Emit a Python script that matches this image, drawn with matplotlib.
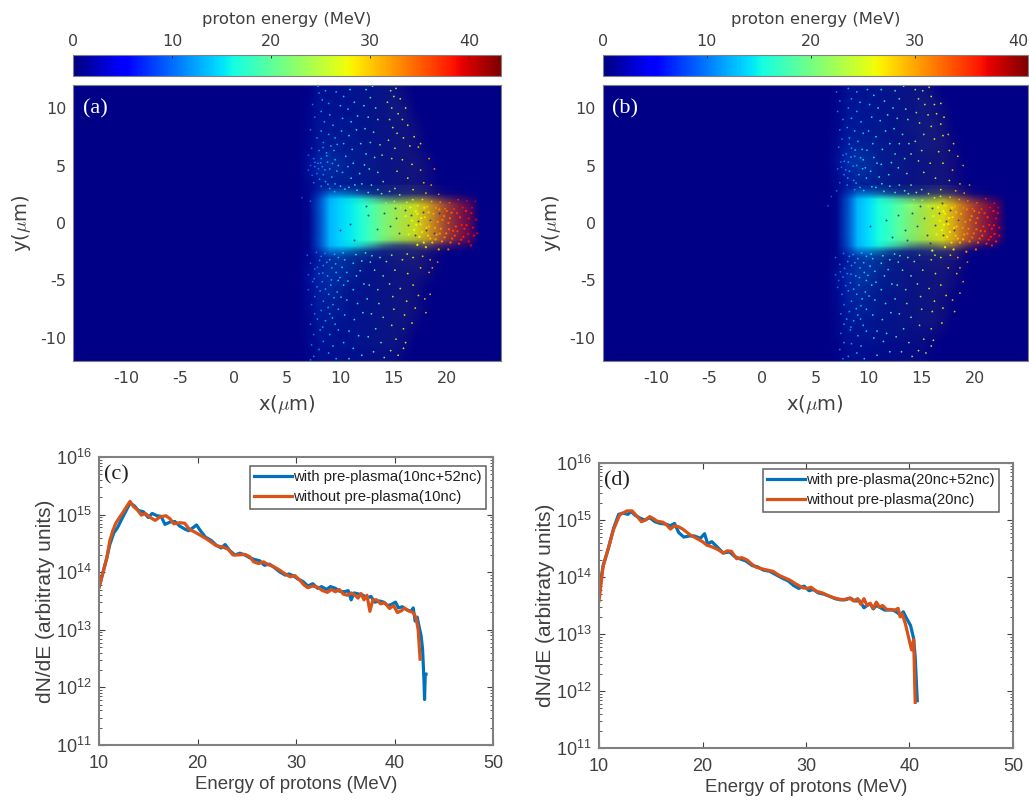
import numpy as np
import matplotlib
matplotlib.use("Agg")
import matplotlib.pyplot as plt
from matplotlib.cm import ScalarMappable
from matplotlib.colors import Normalize
from matplotlib.ticker import LogLocator, NullFormatter

W, H = 1029, 800
INK = "#404040"
SPINE = "#808080"
BLUE = "#0072BD"
ORANGE = "#D95319"

core_x = [7, 8, 9, 10, 11, 12, 13, 14, 15, 16, 17, 18, 19, 20, 21, 22, 23]
core_y = [3, 2.5, 2, 1.5, 1, .5, 0, -.5, -1, -1.5, -2, -2.5, -3]
a_core_energy = [10, 11.5, 13, 14.5, 15.5, 17, 19, 21.5, 23.5, 25.5, 27.5, 29.5, 32, 34.5, 36.5, 38, 39]
b_core_energy = [10, 11, 12.5, 14, 15.5, 17, 19, 21, 23, 25, 26.5, 28.5, 31, 33, 35, 36.5, 37]
a_core_cover = [
 [0,.03,.06,.06,.05,.05,.05,.05,.05,.05,.05,.05,.03,.03,.02,.01,0],
 [0,.2,.5,.45,.35,.22,.12,.08,.08,.08,.08,.08,.06,.06,.05,.03,0],
 [.01,.45,.98,.98,.95,.88,.76,.6,.5,.48,.5,.5,.42,.34,.26,.18,0],
 [.02,.52,1,1,1,1,1,.95,.92,.88,.85,.8,.72,.6,.48,.34,.01],
 [.02,.52,1,1,1,1,1,.97,.93,.88,.85,.8,.72,.6,.5,.38,.01],
 [.02,.5,1,1,1,1,1,.97,.93,.88,.85,.8,.72,.6,.5,.38,.01],
 [.02,.5,1,1,1,1,1,.97,.93,.88,.85,.8,.72,.6,.5,.38,.01],
 [.02,.5,1,1,1,1,1,.97,.93,.88,.85,.8,.72,.6,.5,.38,.01],
 [.02,.5,1,1,1,1,1,.97,.93,.88,.85,.8,.72,.6,.5,.38,.01],
 [.02,.52,1,1,1,1,1,.92,.84,.78,.72,.72,.66,.52,.42,.3,.01],
 [.01,.45,.98,.98,.92,.76,.6,.4,.28,.24,.26,.32,.26,.22,.18,.12,0],
 [0,.2,.5,.42,.3,.18,.1,.05,.05,.05,.05,.05,.05,.02,.02,.01,0],
 [0,.03,.06,.06,.05,.05,.04,.02,.02,.02,.02,0,0,0,0,0,0],
]
b_core_cover = [
 [0,.04,.06,.06,.06,.05,.05,.05,.05,.07,.07,.05,.05,.02,.02,.01,0],
 [.01,.2,.48,.42,.32,.22,.16,.12,.12,.16,.16,.16,.12,.08,.05,.03,0],
 [.01,.45,.98,.98,.96,.9,.82,.72,.62,.6,.62,.58,.5,.38,.28,.18,.01],
 [.02,.5,1,1,1,1,1,1,.92,.9,.88,.85,.76,.64,.52,.36,.01],
 [.02,.52,1,1,1,1,1,.96,.9,.88,.88,.84,.76,.64,.52,.36,.01],
 [.02,.52,1,1,1,1,1,.94,.9,.88,.88,.84,.76,.64,.52,.36,.01],
 [.02,.52,1,1,1,1,1,.94,.9,.88,.88,.84,.76,.64,.52,.36,.01],
 [.02,.52,1,1,1,1,1,.94,.9,.88,.88,.84,.76,.64,.52,.36,.01],
 [.02,.52,1,1,1,1,1,.94,.9,.88,.88,.84,.76,.64,.52,.36,.01],
 [.02,.5,1,1,1,1,.96,.9,.86,.84,.86,.82,.72,.58,.46,.32,.01],
 [.01,.45,.98,.98,.94,.84,.72,.56,.46,.44,.52,.52,.38,.26,.16,.1,0],
 [.01,.2,.48,.42,.28,.18,.12,.08,.08,.1,.1,.1,.06,.03,.02,.01,0],
 [0,.04,.08,.06,.05,.04,.04,.02,.02,.02,.02,.04,.02,0,0,0,0],
]

# faint tint of the unresolved dots around the core
halo_x = [7, 8, 9, 10, 11, 12, 13, 14, 15, 16, 17, 18, 19]
halo_y = [11.5, 10.5, 9.5, 8.5, 7.5, 6.5, 5.5, 4.5, 3.5, 2.5, 1.5, .5, -.5, -1.5, -2.5, -3.5, -4.5, -5.5, -6.5, -7.5, -8.5, -9.5, -10.5, -11.5]
a_halo_cover = [
 [.02,.1,.08,.08,.08,.08,.08,.08,.08,.04,0,0,0],
 [.04,.12,.1,.08,.08,.08,.08,.08,.1,.06,.01,0,0],
 [.04,.12,.1,.08,.08,.08,.08,.08,.1,.08,.02,0,0],
 [.06,.14,.12,.1,.1,.08,.08,.08,.08,.08,.05,0,0],
 [.06,.14,.14,.12,.1,.08,.08,.08,.08,.08,.06,.01,0],
 [.06,.16,.16,.12,.1,.1,.08,.08,.08,.08,.06,.02,0],
 [.12,.24,.24,.18,.12,.1,.1,.08,.08,.08,.08,.05,.01],
 [.12,.24,.22,.16,.12,.1,.1,.08,.08,.08,.08,.06,.02],
 [.08,.18,.18,.14,.12,.1,.08,.08,.08,.08,.08,.06,.02],
 [.06,.16,.2,.18,.14,.12,.11,.1,.1,.1,.1,.08,.04],
 [.04,.04,0,0,0,0,0,0,0,0,0,0,0],
 [.04,.04,0,0,0,0,0,0,0,0,0,0,0],
 [.04,.04,0,0,0,0,0,0,0,0,0,0,0],
 [.04,.04,0,0,0,0,0,0,0,0,0,0,0],
 [.06,.18,.24,.22,.18,.13,.11,.1,.1,.1,.1,.08,.04],
 [.08,.2,.24,.22,.16,.12,.08,.08,.1,.1,.1,.08,.04],
 [.12,.24,.24,.2,.14,.08,.08,.08,.08,.08,.08,.06,.02],
 [.1,.22,.22,.16,.1,.08,.08,.08,.08,.08,.06,.02,0],
 [.08,.2,.18,.12,.08,.08,.08,.08,.08,.08,.06,.02,0],
 [.08,.18,.16,.12,.08,.08,.08,.08,.08,.08,.06,.02,0],
 [.06,.16,.14,.1,.08,.08,.08,.08,.08,.08,.04,0,0],
 [.06,.14,.12,.08,.08,.08,.08,.08,.08,.06,.02,0,0],
 [.05,.12,.1,.08,.08,.08,.08,.08,.08,.05,0,0,0],
 [.04,.1,.08,.08,.06,.06,.06,.06,.06,.02,0,0,0],
]
b_halo_cover = [
 [.02,.11,.1,.08,.08,.08,.08,.08,.08,.05,0,0,0],
 [.04,.13,.11,.1,.08,.08,.08,.08,.1,.08,.03,0,0],
 [.05,.14,.13,.1,.08,.08,.08,.08,.1,.08,.05,0,0],
 [.06,.16,.13,.1,.1,.08,.08,.1,.1,.1,.06,.01,0],
 [.08,.18,.16,.12,.1,.08,.08,.08,.1,.1,.08,.02,0],
 [.1,.22,.2,.14,.11,.1,.08,.08,.1,.1,.08,.04,0],
 [.12,.28,.28,.2,.12,.1,.1,.08,.08,.08,.08,.06,.01],
 [.1,.24,.24,.18,.12,.1,.1,.08,.08,.08,.08,.06,.02],
 [.08,.18,.18,.14,.12,.1,.08,.08,.08,.08,.08,.06,.02],
 [.06,.18,.21,.19,.14,.13,.11,.11,.11,.11,.11,.1,.04],
 [.04,.04,0,0,0,0,0,0,0,0,0,0,0],
 [.04,.04,0,0,0,0,0,0,0,0,0,0,0],
 [.04,.04,0,0,0,0,0,0,0,0,0,0,0],
 [.04,.04,0,0,0,0,0,0,0,0,0,0,0],
 [.06,.18,.24,.24,.2,.14,.11,.1,.11,.11,.11,.1,.04],
 [.08,.2,.26,.24,.18,.13,.1,.1,.1,.1,.1,.08,.04],
 [.12,.26,.28,.22,.14,.1,.1,.08,.08,.08,.08,.06,.02],
 [.1,.22,.24,.18,.11,.1,.1,.08,.08,.08,.08,.05,0],
 [.08,.21,.2,.14,.1,.08,.08,.08,.08,.08,.06,.02,0],
 [.08,.18,.18,.13,.1,.08,.08,.08,.08,.08,.06,.02,0],
 [.06,.16,.14,.11,.08,.08,.08,.08,.08,.08,.05,0,0],
 [.05,.13,.11,.1,.08,.08,.08,.06,.06,.05,.02,0,0],
 [.03,.1,.08,.08,.06,.05,.05,.05,.05,.02,0,0,0],
 [.02,.08,.08,.05,.05,.05,.05,.04,.04,.01,0,0,0],
]

a_dots = [
 (7.4,10.3,11),(7.6,9.2,11),(7.2,8.1,11),(7.8,7.4,12),(7.3,6.5,11),(7.0,5.9,10),(7.5,5.6,11),(7.2,5.0,10),(7.0,4.6,10),(7.6,4.9,11),(7.9,5.2,11),(7.8,4.3,11),(7.5,3.5,11),(6.4,2.2,9),(7.2,1.9,10),
 (7.9,11.9,13),(8.0,11.3,12),(8.6,11.5,13),(8.3,10.7,13),(8.9,10.4,13),(8.2,9.7,13),(9.0,9.4,14),(8.5,8.8,13),(9.3,8.5,14),(8.2,8.0,13),(8.9,7.7,13),(9.5,7.4,14),(8.4,7.0,12),(9.1,6.7,13),(8.0,6.3,12),(8.7,6.1,13),(9.4,6.3,14),(8.2,5.6,12),(8.8,5.3,13),(9.5,5.5,14),(8.3,4.9,12),(9.0,4.7,13),(9.8,5.0,14),(8.4,4.2,12),(9.2,4.0,13),(8.6,3.6,13),(9.5,3.4,14),(8.2,3.2,12),(9.0,3.0,13),(10.0,3.2,15),
 (9.6,11.4,14),(10.3,11.0,15),(10.9,11.6,16),(10.0,10.2,15),(10.7,9.9,15),(11.3,10.5,17),(10.2,9.1,15),(11.0,8.8,16),(11.6,9.3,17),(10.1,8.0,15),(10.8,7.6,16),(11.5,8.1,17),(10.3,6.9,15),(11.1,6.4,16),(11.9,6.9,17),(10.5,5.8,15),(11.2,5.2,16),(10.2,4.4,15),(11.0,3.9,16),(11.8,4.3,17),(10.8,3.1,16),(12.0,3.4,18),
 (12.4,11.6,19),(13.0,11.9,20),(12.8,10.9,19),(12.2,10.2,18),(13.3,10.0,20),(12.6,9.2,19),(13.5,9.0,21),(12.3,8.2,18),(13.1,7.9,20),(12.8,7.0,19),(13.7,6.8,21),(12.4,6.0,18),(13.2,5.7,20),(13.9,5.9,21),(12.7,4.7,19),(13.5,4.4,20),(12.9,3.3,19),(14.0,3.6,21),(13.5,2.9,20),
 (14.7,11.5,25),(15.2,11.7,26),(15.0,11.0,25),(14.4,10.5,24),(15.6,10.8,26),(14.8,10.0,25),(15.4,9.5,26),(16.1,10.0,27),(14.6,9.0,24),(15.8,9.0,27),(14.9,8.3,25),(16.3,8.5,28),(15.3,7.8,26),(14.5,7.2,24),(15.9,7.4,27),(16.9,7.5,28),(15.1,6.5,25),(16.5,6.7,28),(17.3,6.6,29),(17.5,6.9,29),(14.8,5.6,24),(15.8,5.5,26),(16.7,5.1,28),(18.3,5.6,31),(18.8,4.7,32),(17.5,4.6,30),(15.3,4.5,25),(16.3,3.9,27),(17.8,3.5,30),(18.5,3.3,31),(15.1,3.0,25),(16.8,2.9,28),(19.2,2.5,33),(18.0,2.6,30),
 (6.9,-2.8,10),(7.2,-3.5,10),(7.6,-4.0,11),(7.0,-4.5,10),(7.4,-5.1,11),(7.0,-5.8,10),(7.6,-6.4,11),(7.3,-7.1,11),(7.6,-7.9,11),(7.2,-8.8,11),(7.5,-9.7,11),(7.3,-10.6,11),(7.5,-11.6,12),(7.2,-11.9,11),
 (8.2,-2.9,12),(9.0,-3.2,13),(9.8,-3.0,14),(8.4,-3.7,12),(9.2,-3.9,13),(8.0,-4.4,12),(8.8,-4.6,13),(9.6,-4.3,14),(8.3,-5.1,12),(9.1,-5.4,13),(9.8,-5.0,14),(8.1,-5.9,12),(8.9,-6.2,13),(9.7,-6.0,14),(8.4,-6.8,12),(9.3,-7.1,13),(8.2,-7.6,12),(9.0,-7.9,13),(9.8,-7.5,14),(8.6,-8.5,13),(9.5,-8.8,14),(8.1,-9.3,12),(9.0,-9.7,13),(9.8,-9.3,14),(8.4,-10.3,12),(9.3,-10.7,14),(8.9,-11.3,13),(8.0,-11.0,12),(9.6,-11.8,14),
 (10.4,-3.2,15),(11.2,-3.5,16),(12.0,-3.3,18),(10.6,-4.3,15),(11.5,-4.6,17),(10.3,-5.4,15),(11.2,-5.8,16),(12.2,-5.3,18),(10.6,-6.7,15),(11.6,-7.0,17),(10.4,-8.0,15),(11.3,-8.4,16),(12.1,-7.8,18),(10.8,-9.4,16),(11.7,-9.8,17),(10.3,-10.4,15),(11.2,-10.9,16),(10.8,-11.8,16),(12.0,-11.5,18),
 (12.8,-3.4,19),(13.7,-3.0,20),(13.2,-4.1,20),(14.0,-4.6,21),(12.7,-5.4,19),(13.5,-5.8,20),(12.5,-6.6,18),(13.6,-7.0,21),(12.9,-7.9,19),(14.0,-8.2,21),(13.3,-9.2,20),(12.6,-9.9,19),(13.8,-10.4,21),(13.1,-11.2,20),(14.1,-11.7,22),
 (14.8,-2.8,24),(15.8,-3.2,26),(16.8,-3.0,28),(17.7,-2.9,30),(18.4,-3.2,31),(15.1,-4.1,25),(16.3,-4.4,27),(17.5,-3.9,29),(18.6,-3.9,31),(19.1,-3.4,33),(18.3,-4.3,31),(14.6,-5.3,24),(15.6,-5.7,26),(16.8,-5.4,28),(14.9,-6.4,25),(16.2,-6.8,27),(17.3,-6.3,29),(17.9,-6.6,30),(18.4,-6.2,31),(15.0,-7.5,25),(16.0,-8.0,27),(17.0,-7.4,29),(18.0,-7.8,30),(14.8,-8.9,25),(15.9,-9.2,26),(16.7,-8.7,28),(15.2,-10.1,26),(16.1,-10.4,27),(14.7,-11.1,24),(15.4,-11.5,26),(15.9,-10.9,27),
 # denser clumps beside the core
 (7.35,4.15,10),(7.95,4.72,11),(8.15,5.23,12),(8.55,4.61,12),(8.72,5.84,13),(9.25,5.17,13),(9.67,4.52,14),(8.05,3.81,12),(8.83,3.37,13),(9.45,2.72,14),(10.42,2.95,15),(11.35,3.31,16),(7.62,5.27,11),(8.38,6.56,12),(9.7,6.83,14),(10.7,4.9,15),(12.25,5.05,18),(11.55,2.85,17),(12.6,2.65,19),(13.85,2.55,21),(14.6,2.75,23),(15.55,2.45,25),
 (7.75,-2.55,11),(8.55,-2.65,12),(9.45,-2.72,14),(10.25,-2.6,15),(11.45,-2.75,17),(12.35,-2.6,18),(8.05,-3.25,12),(8.72,-3.42,13),(9.55,-3.55,14),(10.15,-3.85,15),(7.85,-3.85,11),(7.55,-4.85,11),(8.35,-4.35,12),(9.15,-4.95,13),(9.95,-4.75,14),(10.7,-5.05,15),(7.8,-5.55,12),(8.6,-5.75,13),(9.4,-6.5,14),(10.05,-6.45,15),(8.85,-7.35,13),(7.85,-8.35,12),(9.25,-8.25,14),(8.35,-9.05,13),(11.85,-4.15,17),(12.95,-2.85,19),(14.3,-3.35,23),(16.25,-2.7,27),
 # hot tail
 (14.25,1.72,22),(15.05,1.88,24),(15.62,1.33,25),(16.21,1.79,26),(16.77,2.02,27),(17.23,1.51,28),(17.68,2.04,29),(18.12,1.42,30),(18.53,1.87,31),(18.94,1.31,32),(19.34,1.81,33),(19.78,1.24,34),(20.21,1.76,35),(20.63,1.21,36),(21.02,2.03,37),(21.44,1.34,38),(21.83,1.92,39),(22.31,1.33,39),(22.62,1.88,40),
]
a_tail = [
 (16.1,.6,26),(16.7,.2,27),(17.2,.8,28),(17.5,-.1,29),(17.9,.5,30),(18.3,-.3,31),(18.7,.8,32),(19.1,.1,33),(19.4,-.5,33),(19.7,.6,34),(20.1,.0,35),(20.4,.9,35),(20.8,-.3,36),(21.2,.5,37),(21.6,-.5,38),(22.0,.4,39),(22.4,-.4,39),(22.7,.3,40),
 (16.4,-1.0,26),(16.9,-.6,27),(17.4,-1.2,28),(17.8,-1.7,29),(18.2,-1.1,30),(18.6,-1.7,31),(19.0,-1.0,32),(19.5,-1.6,33),(19.9,-.9,34),(20.3,-1.7,35),(20.7,-1.1,36),(21.1,-1.8,37),(21.5,-1.2,38),(22.0,-1.6,39),(22.5,-1.1,39),(22.8,-.9,40),(17.2,-1.9,28),(18.0,-2.1,30),(19.2,-2.3,32),(20.1,-2.3,35),
 (16.55,1.35,27),(17.05,1.02,27),(17.55,.43,28),(17.85,1.32,29),(18.25,.93,30),(18.45,.17,31),(18.85,-.42,32),(19.25,1.18,33),(19.55,.27,34),(19.95,1.05,35),(20.25,.42,35),(20.55,-.68,36),(20.92,.86,37),(21.35,-.17,38),(21.75,1.05,38),(21.95,-.95,39),(22.25,.86,39),(17.1,-.15,28),(17.65,-.78,29),(18.05,-.42,30),(18.4,-1.35,31),(18.9,-1.42,32),(19.3,-.92,33),(19.75,-1.25,34),(20.15,-.55,35),(20.45,-1.35,36),(20.95,-.72,37),(21.3,-1.45,38),(21.8,-.2,38),(22.2,-1.95,39),
]
b_dots = [
 (7.0,11.4,11),(7.3,10.6,11),(7.1,9.7,11),(7.6,9.0,12),(7.3,8.1,11),(7.5,7.3,11),(7.2,6.6,11),(7.6,5.9,11),(7.4,5.3,10),(7.1,4.7,10),(7.7,4.2,11),(7.3,3.5,10),(7.0,2.8,10),(6.2,1.5,9),(6.5,2.3,9),
 (8.1,11.7,12),(8.9,11.4,13),(8.4,10.8,12),(9.2,10.5,14),(8.1,10.0,12),(8.9,9.7,13),(8.4,9.1,13),(9.3,8.8,14),(8.0,8.3,12),(8.7,8.0,13),(9.5,7.8,14),(8.2,7.4,12),(9.0,7.1,13),(8.4,6.5,12),(9.4,6.4,14),(7.9,6.0,11),(8.7,5.8,12),(9.5,5.5,14),(8.1,5.3,12),(8.9,5.0,12),(9.7,4.8,14),(8.2,4.5,12),(9.1,4.2,13),(8.6,3.7,12),(9.8,3.9,14),(8.0,3.3,11),(9.2,3.1,13),(8.7,2.9,12),
 (9.9,11.6,14),(10.5,11.1,15),(11.2,11.6,16),(10.1,10.3,14),(10.9,10.0,16),(11.5,10.6,16),(10.3,9.2,15),(11.1,8.9,16),(11.8,9.4,17),(10.0,8.0,14),(10.7,7.5,15),(11.6,8.0,16),(10.4,6.9,15),(11.3,6.4,16),(12.0,6.9,17),(10.5,5.7,15),(11.2,5.1,16),(10.2,4.5,15),(11.0,4.0,16),(11.9,4.2,17),(10.7,3.1,15),(12.0,3.2,17),
 (12.5,11.5,18),(13.3,11.9,19),(12.9,10.8,18),(12.3,10.0,17),(13.5,9.9,20),(12.7,9.1,18),(13.7,9.0,20),(12.4,8.2,17),(13.2,7.7,19),(12.9,6.9,18),(13.8,6.9,20),(12.5,6.0,17),(13.4,5.6,19),(14.0,6.0,21),(12.8,4.8,18),(13.6,4.3,20),(12.9,3.3,18),(14.0,3.3,21),(13.4,2.8,19),
 (14.4,11.6,22),(15.1,11.5,23),(15.7,11.8,25),(15.9,11.0,25),(14.7,10.8,22),(15.3,10.3,23),(16.2,10.3,25),(16.8,10.4,26),(14.5,9.6,22),(15.6,9.4,24),(16.4,9.5,25),(17.1,9.2,27),(14.8,8.7,23),(15.9,8.4,24),(16.8,8.6,26),(15.2,7.7,23),(14.4,7.1,22),(16.2,7.3,25),(17.0,7.6,26),(17.5,7.7,28),(18.0,6.9,28),(17.6,6.3,27),(15.0,6.3,23),(16.6,6.2,26),(18.4,5.8,29),(14.7,5.4,22),(15.8,5.2,24),(17.0,5.2,26),(18.9,5.0,30),(17.9,4.6,28),(15.2,4.4,23),(16.3,3.9,25),(17.6,3.7,27),(18.6,3.4,29),(19.5,3.3,31),(15.0,2.9,23),(16.8,2.9,26),(18.2,2.8,28),(19.0,2.6,30),
 (6.9,-3.0,10),(7.3,-3.6,10),(6.9,-4.5,10),(7.2,-5.0,10),(7.6,-4.7,11),(7.1,-5.6,10),(7.5,-6.2,11),(7.7,-7.1,11),(7.4,-7.9,11),(7.7,-8.8,12),(7.4,-9.6,11),(7.7,-10.4,12),(7.3,-11.0,11),(7.6,-11.8,11),
 (8.2,-2.9,12),(9.0,-3.1,13),(9.8,-2.9,14),(8.4,-3.7,12),(9.2,-3.9,13),(8.0,-4.4,11),(8.8,-4.6,13),(9.6,-4.3,14),(8.3,-5.2,12),(9.1,-5.4,13),(9.8,-5.0,14),(8.1,-5.9,12),(8.9,-6.2,13),(9.7,-6.0,14),(8.4,-6.8,12),(9.3,-7.2,13),(8.2,-7.7,12),(9.0,-8.0,13),(9.8,-7.5,14),(8.6,-8.5,13),(9.5,-8.9,14),(8.3,-9.3,12),(9.0,-9.8,13),(9.8,-9.4,14),(8.4,-10.5,12),(9.3,-10.7,14),(8.9,-11.3,13),(8.1,-11.6,12),(9.6,-11.8,14),
 (10.4,-3.1,15),(11.2,-3.5,16),(12.0,-3.2,17),(10.6,-4.2,15),(11.5,-4.6,16),(10.3,-5.4,15),(11.2,-5.8,16),(12.2,-5.3,17),(10.6,-6.7,15),(11.6,-7.0,16),(10.4,-8.0,15),(11.3,-8.4,16),(12.1,-7.8,17),(10.8,-9.4,15),(11.7,-9.6,16),(10.5,-10.0,15),(11.4,-10.3,16),(10.8,-11.5,15),(12.0,-11.2,17),
 (12.8,-3.4,18),(13.7,-3.0,20),(13.2,-4.1,19),(14.0,-4.6,21),(12.7,-5.4,18),(13.5,-5.8,19),(12.5,-6.6,17),(13.6,-7.0,20),(12.9,-7.9,18),(14.0,-8.2,21),(13.3,-9.2,19),(12.6,-9.9,18),(13.8,-10.4,20),(13.1,-11.2,19),(14.1,-11.6,21),
 (14.8,-2.8,22),(15.9,-3.2,24),(16.8,-3.0,26),(17.7,-2.8,27),(18.4,-3.0,29),(15.1,-4.1,23),(16.3,-4.4,25),(17.5,-3.9,27),(18.6,-3.9,29),(19.3,-3.4,31),(18.3,-4.4,28),(14.6,-5.3,22),(15.7,-5.7,24),(16.8,-5.4,26),(18.9,-5.1,30),(14.9,-6.4,23),(16.2,-6.8,25),(17.3,-6.3,27),(17.9,-6.7,28),(18.6,-6.1,29),(15.0,-7.5,23),(16.0,-7.7,24),(17.0,-7.4,26),(18.1,-7.7,28),(14.8,-8.9,22),(15.9,-9.2,24),(16.9,-8.7,26),(15.2,-10.1,23),(16.1,-10.2,25),(14.7,-11.1,22),(15.4,-11.3,23),(15.9,-10.7,24),
 # denser clumps beside the core
 (7.45,4.85,10),(7.85,4.62,11),(8.35,5.73,12),(8.55,4.95,12),(8.75,6.34,13),(9.25,5.67,13),(9.45,4.72,14),(8.05,3.91,12),(8.83,3.47,13),(9.55,2.82,14),(10.32,3.15,15),(11.25,3.41,16),(7.72,5.37,11),(8.18,6.86,12),(9.85,6.33,14),(10.8,5.2,15),(12.15,5.25,17),(11.45,2.75,16),(12.5,2.65,18),(13.75,2.55,20),(14.5,2.65,22),(15.65,2.55,24),
 (7.65,-2.65,11),(8.55,-2.75,12),(9.35,-2.62,13),(10.25,-2.7,15),(11.35,-2.85,16),(12.45,-2.7,17),(8.05,-3.35,12),(8.72,-3.45,13),(9.55,-3.45,14),(10.15,-3.75,15),(7.75,-3.95,11),(7.35,-4.25,10),(8.35,-4.45,12),(9.15,-4.75,13),(9.95,-4.55,14),(10.7,-5.15,15),(7.85,-5.45,11),(8.6,-5.75,13),(9.4,-6.6,14),(10.05,-6.35,14),(8.85,-7.45,13),(7.95,-8.35,12),(9.25,-8.35,13),(8.35,-9.05,12),(11.85,-4.05,16),(12.95,-2.85,18),(14.3,-3.35,21),(16.25,-2.8,25),
 # hot tail
 (14.25,2.02,21),(15.05,1.98,23),(15.62,1.43,24),(16.21,2.19,25),(16.77,2.32,26),(17.23,1.51,27),(17.68,2.24,28),(18.12,1.42,29),(18.53,2.05,30),(18.94,1.31,31),(19.34,1.91,32),(19.78,1.24,33),(20.21,1.76,33),(20.63,1.21,34),(21.02,2.12,35),(21.44,1.34,36),(21.83,1.72,36),(22.21,1.33,37),
]
b_tail = [
 (16.1,.6,25),(16.7,.2,26),(17.2,.8,27),(17.5,-.1,27),(17.9,.5,28),(18.3,-.3,29),(18.7,.8,30),(19.1,.1,31),(19.4,-.5,32),(19.7,.6,32),(20.1,.0,33),(20.4,.9,34),(20.8,-.3,35),(21.2,.5,35),(21.6,-.5,36),(22.0,.4,37),(22.3,-.4,37),
 (16.4,-1.0,25),(16.9,-.6,26),(17.4,-1.2,27),(17.8,-1.7,28),(18.2,-1.1,29),(18.6,-1.7,30),(19.0,-1.0,31),(19.5,-1.6,32),(19.9,-.9,33),(20.3,-1.7,33),(20.7,-1.1,34),(21.1,-1.8,35),(21.5,-1.2,36),(22.0,-1.6,36),(22.3,-1.1,37),(17.2,-2.1,27),(18.0,-2.3,28),(19.2,-2.5,31),(20.1,-2.3,33),(16.0,-2.4,25),
 (16.55,1.35,26),(17.05,1.02,26),(17.55,.43,27),(17.85,1.32,28),(18.25,.93,29),(18.45,.17,30),(18.85,-.42,31),(19.25,1.18,32),(19.55,.27,32),(19.95,1.05,33),(20.25,.42,33),(20.55,-.68,34),(20.92,.86,35),(21.35,-.17,36),(21.75,1.05,36),(21.85,-.95,36),(22.15,.86,37),(17.1,-.15,26),(17.65,-.78,27),(18.05,-.42,28),(18.4,-1.35,29),(18.9,-1.42,30),(19.3,-.92,32),(19.75,-1.25,33),(20.15,-.55,33),(20.45,-1.35,34),(20.95,-.72,35),(21.3,-1.45,36),(21.8,-.2,36),(21.6,-1.95,36),
]
a_specks = [(10.9,-.1),(10.0,-.6),(12.6,.7),(13.4,-.5),(14.1,.9),(14.6,-.3),(15.2,.4),(15.5,-.9),(16.0,1.1),(16.3,-.2),(16.6,.7),(17.0,-1.0),(17.3,.2),(17.7,1.0),(18.0,-.6),(18.4,.3),(18.8,-.9),(19.2,.9),(12.4,1.5),(15.1,1.3),(11.3,-1.5)]
b_specks = [(10.1,-.3),(11.6,.3),(12.8,.7),(13.4,-.6),(14.1,.9),(14.6,-.3),(15.2,.4),(15.5,-1.0),(16.0,1.3),(16.3,-.2),(16.6,.9),(17.0,-1.0),(17.3,.2),(17.7,1.1),(18.0,-.6),(18.4,.3),(14.8,1.5),(13.6,-1.5),(12.2,-1.2),(15.8,-1.7),(16.9,1.7)]

# ---- spectra: proton energy (MeV) and log10(dN/dE)
c_blue_E = [10,10.4,10.8,11.1,11.5,11.9,12.3,12.7,13.15,13.6,14,14.5,15,15.4,15.9,16.3,16.7,17.2,17.7,18.2,18.7,19.1,19.6,19.9,20.3,20.8,21.4,21.9,22.4,22.8,23.3,23.8,24.3,24.8,25.3,25.8,26.3,26.8,27.3,27.8,28.4,28.9,29.3,29.8,30.2,30.7,31.2,31.7,32.2,32.6,33.1,33.5,34,34.4,34.9,35.3,35.6,35.9,36.4,36.8,37.2,37.6,38,38.5,38.9,39.3,39.7,40.1,40.4,40.8,41.2,41.7,41.9,42.1,42.3,42.5,42.7,42.85,43,43.05,43.12,43.2]
c_blue_log = [13.74,14.0,14.25,14.48,14.68,14.78,14.92,15.05,15.2,15.15,15.07,15.05,14.95,15.02,14.98,14.97,14.83,14.87,14.88,14.8,14.75,14.72,14.78,14.82,14.72,14.61,14.55,14.47,14.42,14.48,14.37,14.3,14.33,14.3,14.25,14.22,14.2,14.12,14.14,14.08,14.0,13.95,13.97,13.93,13.88,13.84,13.76,13.8,13.72,13.75,13.7,13.75,13.72,13.67,13.66,13.68,13.52,13.64,13.62,13.6,13.55,13.58,13.48,13.5,13.48,13.42,13.44,13.48,13.38,13.4,13.35,13.32,13.38,13.15,13.22,13.05,12.9,12.66,12.1,11.79,12.23,12.23]
c_orange_E = [10,10.4,10.8,11.1,11.4,11.7,12,12.4,12.8,13.15,13.5,13.9,14.3,14.7,15.2,15.7,16.2,16.8,17.2,17.6,18.2,18.7,19.2,19.7,20.3,20.9,21.4,21.9,22.5,23.1,23.6,24.2,24.8,25.3,25.7,26.2,26.7,27.2,27.7,28.3,28.9,29.4,29.9,30.4,30.8,31.2,31.7,32.2,32.7,33.2,33.6,34,34.4,34.8,35.2,35.6,36,36.3,36.6,36.9,37.2,37.5,37.8,38.2,38.6,39,39.5,39.9,40.3,40.7,41,41.4,41.9,42.2,42.4,42.6]
c_orange_log = [13.74,13.98,14.26,14.55,14.72,14.85,14.93,15.03,15.14,15.23,15.14,15.08,14.99,15.02,14.95,14.9,14.96,14.98,14.93,14.84,14.86,14.85,14.74,14.7,14.64,14.58,14.52,14.46,14.44,14.4,14.3,14.3,14.31,14.27,14.18,14.15,14.18,14.13,14.1,14.04,13.97,13.92,13.94,13.86,13.78,13.73,13.76,13.74,13.68,13.65,13.7,13.66,13.7,13.62,13.6,13.64,13.6,13.55,13.63,13.52,13.6,13.32,13.52,13.52,13.45,13.47,13.37,13.42,13.3,13.33,13.38,13.33,13.3,13.2,13.0,12.49]
d_blue_E = [10,10.4,10.9,11.4,11.9,12.3,12.8,13.1,13.5,14,14.4,14.9,15.4,15.9,16.4,16.9,17.3,17.7,18.2,18.7,19.2,19.8,20.2,20.5,20.9,21.4,22,22.6,23.1,23.6,24.2,24.8,25.3,25.9,26.5,27.1,27.7,28.3,28.8,29.3,29.8,30.3,30.7,31.2,31.7,32.3,32.8,33.3,33.8,34.3,34.7,35.2,35.6,35.9,36.2,36.5,36.8,37.2,37.6,38,38.4,38.8,39.1,39.4,39.7,40.1,40.4,40.55,40.75]
d_blue_log = [13.75,14.2,14.5,14.85,15.1,15.12,15.1,15.15,15.08,15.03,15.0,15.04,14.97,14.94,14.93,14.9,14.94,14.78,14.7,14.72,14.72,14.68,14.76,14.58,14.62,14.53,14.42,14.44,14.36,14.32,14.28,14.2,14.18,14.12,14.1,14.04,13.98,13.93,13.85,13.8,13.84,13.76,13.78,13.72,13.7,13.66,13.62,13.6,13.6,13.63,13.58,13.58,13.46,13.5,13.53,13.44,13.5,13.46,13.42,13.42,13.42,13.38,13.33,13.39,13.28,13.15,12.92,12.6,11.83]
d_orange_E = [10,10.4,10.9,11.4,12,12.7,13.2,13.6,14.1,14.5,14.9,15.3,15.6,16.2,16.6,16.9,17.3,17.7,18.1,18.8,19.4,20,20.4,20.9,21.5,22,22.4,22.8,23.3,23.8,24.3,24.8,25.2,25.8,26.3,26.8,27.5,28.4,29,29.7,30.1,30.5,31,31.6,32.3,33,33.6,34.2,34.6,35,35.3,35.6,35.9,36.2,36.5,36.8,37.1,37.4,37.8,38.2,38.6,38.9,39.1,39.3,39.6,39.9,40.2,40.4,40.55]
d_orange_log = [13.58,14.19,14.5,14.83,15.09,15.16,15.16,15.08,14.97,15.0,15.06,15.02,14.98,14.96,14.9,14.84,14.9,14.88,14.84,14.74,14.68,14.62,14.56,14.53,14.48,14.42,14.46,14.45,14.32,14.34,14.3,14.22,14.17,14.14,14.12,14.1,14.02,13.95,13.88,13.81,13.8,13.82,13.75,13.72,13.66,13.62,13.6,13.63,13.58,13.62,13.52,13.62,13.5,13.54,13.45,13.56,13.47,13.5,13.43,13.43,13.42,13.45,13.3,13.35,13.18,12.95,12.72,12.9,11.8]

x_ticks = [-10, -5, 0, 5, 10, 15, 20]
y_ticks = [-10, -5, 0, 5, 10]
bar_ticks = [0, 10, 20, 30, 40]
e_ticks = [10, 20, 30, 40, 50]
legend_c = ["with pre-plasma(10nc+52nc)", "without pre-plasma(10nc)"]
legend_d = ["with pre-plasma(20nc+52nc)", "without pre-plasma(20nc)"]


def box(fig, l, t, r, b):
    return fig.add_axes([l / W, 1 - b / H, (r - l) / W, (b - t) / H])


def field(fig, bounds, bar_bounds, vmax, core_e, cover, halo, dots, tail, specks, tag):
    cmap = plt.get_cmap("jet")
    norm = Normalize(0, vmax)
    ax = box(fig, *bounds)
    ax.set_facecolor((0, 0, .53))
    # the tint fades to nothing one column beyond each side
    padded = np.pad(np.array(halo), ((0, 0), (1, 1)))
    shades = np.array(core_e[:len(halo_x)])
    shades = np.concatenate([shades[:1], shades, shades[-1:]])
    tint = np.tile(cmap(norm(shades))[None, :, :], (len(halo_y), 1, 1))
    tint[:, :, 3] = padded
    ax.imshow(tint, extent=(halo_x[0] - 1.5, halo_x[-1] + 1.5, halo_y[-1] - .5, halo_y[0] + .5),
              origin="upper", aspect="auto", interpolation="bilinear", zorder=1)
    rgba = np.tile(cmap(norm(core_e))[None, :, :], (len(core_y), 1, 1))
    rgba[:, :, 3] = np.array(cover)
    ax.imshow(rgba, extent=(core_x[0] - .5, core_x[-1] + .5, core_y[-1] - .25, core_y[0] + .25),
              origin="upper", aspect="auto", interpolation="bilinear", zorder=1.5)
    d = np.array(dots)
    ax.scatter(d[:, 0], d[:, 1], c=d[:, 2], cmap=cmap, norm=norm, s=1.6, linewidths=0, alpha=.9, zorder=2)
    t = np.array(tail)
    ax.scatter(t[:, 0], t[:, 1], c=t[:, 2], cmap=cmap, norm=norm, s=2.6, linewidths=0, zorder=3)
    sp = np.array(specks)
    ax.scatter(sp[:, 0], sp[:, 1], color=(.1, .15, .5), s=2, linewidths=0, alpha=.8, zorder=4)
    ax.set_xlim(-15, 25)
    ax.set_ylim(-12, 12)
    ax.set_xticks(x_ticks)
    ax.set_yticks(y_ticks)
    ax.tick_params(direction="in", length=0, labelsize=11.5, labelcolor=INK, pad=5)
    ax.tick_params(axis="x", pad=7)
    for s in ax.spines.values():
        s.set_color(SPINE)
        s.set_linewidth(.8)
    ax.set_xlabel("x($\\mathit{\\mu}$m)", fontsize=14, color=INK, math_fontfamily="cm")
    ax.set_ylabel("y($\\mathit{\\mu}$m)", fontsize=14, color=INK, math_fontfamily="cm")
    ax.xaxis.set_label_coords(.5, -32 / (bounds[3] - bounds[1]))
    ax.yaxis.set_label_coords(-40 / (bounds[2] - bounds[0]), .5)
    ax.text(.022, .915, tag, transform=ax.transAxes, color="white", family="Liberation Serif",
            fontsize=16, va="center", ha="left")
    cax = box(fig, *bar_bounds)
    cb = fig.colorbar(ScalarMappable(norm=norm, cmap=cmap), cax=cax, orientation="horizontal")
    cb.set_ticks(bar_ticks)
    cax.xaxis.set_ticks_position("top")
    cax.xaxis.set_label_position("top")
    cax.tick_params(direction="in", length=2.5, width=.7, color="#303030", labelsize=11.5, labelcolor=INK, pad=4.5)
    cb.outline.set_edgecolor(SPINE)
    cb.outline.set_linewidth(.8)
    cb.set_label("proton energy (MeV)", fontsize=11.8, color=INK, labelpad=7)


def spectrum(fig, bounds, be, bl, oe, ol, labels, tag, leg_box, tag_y):
    ax = box(fig, *bounds)
    ax.semilogy(be, 10.0 ** np.array(bl), color=BLUE, lw=2.3, label=labels[0], solid_joinstyle="round")
    ax.semilogy(oe, 10.0 ** np.array(ol), color=ORANGE, lw=2.3, label=labels[1], solid_joinstyle="round")
    ax.set_xlim(10, 50)
    ax.set_ylim(1e11, 1e16)
    ax.set_xticks(e_ticks)
    ax.yaxis.set_major_locator(LogLocator(base=10, numticks=10))
    ax.yaxis.set_minor_locator(LogLocator(base=10, subs=np.arange(2, 10) * .1, numticks=12))
    ax.yaxis.set_minor_formatter(NullFormatter())
    ax.tick_params(which="major", direction="in", length=4, width=.8, color="#404040", top=True, right=True,
                   labelsize=13, labelcolor=INK, pad=5)
    ax.tick_params(axis="x", which="major", pad=7)
    ax.tick_params(which="minor", direction="in", length=2, width=.6, color="#404040", right=True)
    for s in ax.spines.values():
        s.set_color(SPINE)
        s.set_linewidth(1.5)
    ax.set_xlabel("Energy of protons (MeV)", fontsize=13.4, color=INK, labelpad=3)
    ax.set_ylabel("dN/dE (arbitraty units)", fontsize=15, color=INK, labelpad=1)
    ax.text(.012, (bounds[3] - tag_y) / (bounds[3] - bounds[1]), tag, transform=ax.transAxes, color="#202020",
            family="Liberation Serif", fontsize=16, va="center", ha="left")
    l, t, r, b = leg_box
    x0 = (l - bounds[0]) / (bounds[2] - bounds[0])
    y1 = (bounds[3] - t) / (bounds[3] - bounds[1])
    leg = ax.legend(loc="upper left", bbox_to_anchor=(x0, y1), borderaxespad=0, fontsize=10.7,
                    frameon=True, fancybox=False, framealpha=1, edgecolor="#606060", handlelength=2.5,
                    handletextpad=.1, borderpad=.3, labelspacing=.4)
    leg.get_frame().set_linewidth(1.1)
    for txt in leg.get_texts():
        txt.set_color("#202020")


plt.rcParams["font.family"] = ["DejaVu Sans"]
plt.rcParams["axes.unicode_minus"] = False
plt.rcParams["mathtext.default"] = "regular"
fig = plt.figure(figsize=(W / 100, H / 100), dpi=100, facecolor="white")

field(fig, (73.3, 85, 500.7, 361), (73.3, 55, 500.7, 76), 43.2, a_core_energy, a_core_cover, a_halo_cover,
      a_dots, a_tail, a_specks, "(a)")
field(fig, (602.7, 85, 1028, 361), (602.7, 55, 1028, 76), 40.9, b_core_energy, b_core_cover, b_halo_cover,
      b_dots, b_tail, b_specks, "(b)")

plt.rcParams["font.family"] = ["Liberation Sans"]
plt.rcParams["mathtext.fontset"] = "custom"
plt.rcParams["mathtext.rm"] = "Liberation Sans"
spectrum(fig, (99, 457, 493, 745), c_blue_E, c_blue_log, c_orange_E, c_orange_log, legend_c, "(c)",
         (250, 466, 485, 507), 475)
spectrum(fig, (599, 463, 1013, 748), d_blue_E, d_blue_log, d_orange_E, d_orange_log, legend_d, "(d)",
         (763, 469, 1000, 509), 481)

fig.savefig("out.png", dpi=100, facecolor="white")
